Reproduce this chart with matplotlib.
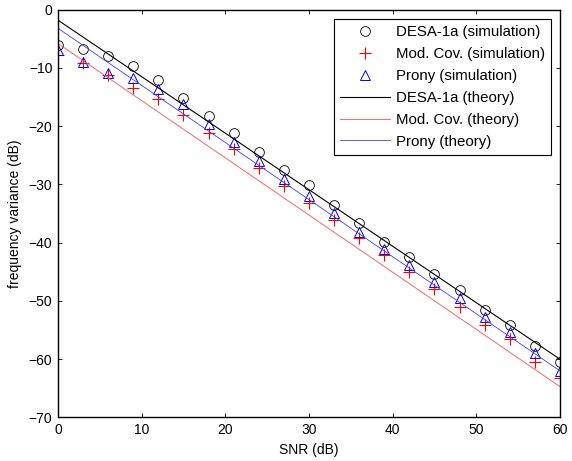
import matplotlib
matplotlib.use("Agg")
import matplotlib.pyplot as plt
import numpy as np

plt.rcParams["font.family"] = ["Liberation Sans", "DejaVu Sans"]

# SNR grid for the simulated points (dB)
snr = np.arange(0, 61, 3)

# simulated frequency variance (dB)
desa_sim = [-6.1, -6.8, -8.0, -9.7, -12.1, -15.2, -18.3, -21.2, -24.5, -27.6, -30.1,
            -33.5, -36.7, -39.8, -42.5, -45.4, -48.2, -51.5, -54.1, -57.7, -60.4]
modcov_sim = [-7.8, -9.2, -11.2, -13.5, -15.4, -18.1, -21.2, -24.0, -27.2, -30.3, -33.2,
              -36.1, -39.2, -42.1, -45.0, -48.0, -51.0, -54.1, -56.6, -60.4, -63.2]
prony_sim = [-6.9, -9.0, -10.8, -11.8, -13.7, -16.2, -19.6, -22.7, -25.9, -29.1, -32.0,
             -34.9, -38.1, -41.0, -43.8, -46.8, -49.5, -52.7, -55.3, -59.0, -62.1]

# theory curves are straight lines in dB; endpoints
snr_theory = [0, 60]
desa_theory = [-1.8, -60.0]
modcov_theory = [-5.8, -64.7]
prony_theory = [-3.2, -62.0]

fig = plt.figure(figsize=(5.72, 4.61), dpi=100)
ax = fig.add_axes([0.1014, 0.0944, 0.8776, 0.8846])

ms = 7
ax.plot(snr, desa_sim, "o", mfc="none", mec="black", ms=ms, mew=0.6,
        label="DESA-1a (simulation)")
ax.plot(snr, modcov_sim, "+", color="red", ms=ms + 1, mew=0.8,
        label="Mod. Cov. (simulation)")
ax.plot(snr, prony_sim, "^", mfc="none", mec="blue", ms=ms + 0.5, mew=0.7,
        label="Prony (simulation)")
ax.plot(snr_theory, desa_theory, "-", color="black", lw=0.8, label="DESA-1a (theory)")
ax.plot(snr_theory, modcov_theory, "-", color="#ff5050", lw=0.6, label="Mod. Cov. (theory)")
ax.plot(snr_theory, prony_theory, "-", color="#4040ff", lw=0.6, label="Prony (theory)")

ax.set_xlim(0, 60)
ax.set_ylim(-70, 0)
ax.set_xticks(np.arange(0, 61, 10))
ax.set_yticks(np.arange(-70, 1, 10))
ax.tick_params(direction="in", length=3, width=0.6, labelsize=10,
               top=True, right=True, pad=4)
for spine in ax.spines.values():
    spine.set_linewidth(1.0)

ax.set_xlabel("SNR (dB)", fontsize=10, labelpad=4)
ax.set_ylabel("frequency variance (dB)", fontsize=10, labelpad=5)

leg = ax.legend(loc="upper right", fontsize=10.8, frameon=True, fancybox=False,
                edgecolor="black", framealpha=1, handlelength=3.3,
                labelspacing=0.53, borderaxespad=0.6, handletextpad=0.4,
                borderpad=0.42)
leg.get_frame().set_linewidth(0.8)

fig.savefig("out.png", dpi=100)
